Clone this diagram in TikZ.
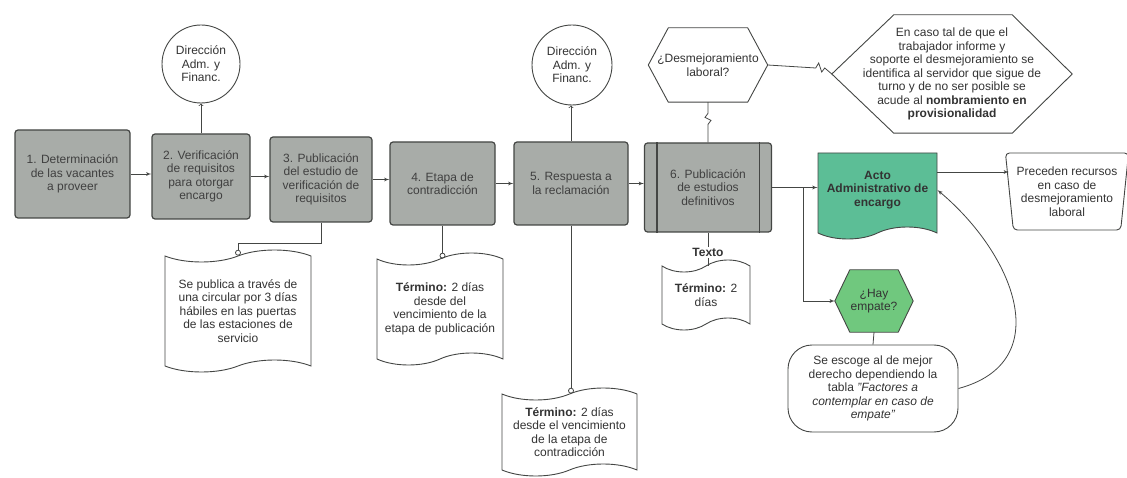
\documentclass[tikz,border=0pt]{standalone}
\usepackage{fontspec}
\setmainfont{Liberation Sans}
\usetikzlibrary{shapes,arrows,backgrounds}
\definecolor{boxgray}{RGB}{168,172,168}
\definecolor{edge}{RGB}{68,70,68}
\definecolor{actoteal}{RGB}{92,190,150}
\definecolor{tiegreen}{RGB}{112,200,126}
\tikzstyle{process} = [rectangle, draw=edge, fill=boxgray, text=black!75,
    rounded corners=3pt, line width=1.2pt, align=center, inner sep=2pt]
\tikzstyle{office} = [circle, draw=edge, fill=white, line width=0.9pt,
    minimum size=78pt, inner sep=0pt, align=center]
\tikzstyle{hexbox} = [rectangle, align=center, inner sep=1pt]
\tikzstyle{hexline} = [draw=edge, line width=0.9pt, line join=round]
\tikzstyle{note} = [tape, draw=edge, fill=white, line width=0.9pt,
    tape bend height=12pt, align=center, inner sep=1pt]
\tikzstyle{wire} = [draw=edge, line width=0.8pt]
\tikzstyle{flow} = [wire, -latex']
\tikzstyle{toward} = [wire, ->]
\tikzstyle{pin} = [wire, -o]
\begin{document}
\begin{tikzpicture}[x=1pt, y=-1pt, text=black!80,
    every node/.style={font=\fontsize{12}{13.5}\selectfont}]
 \useasboundingbox (0,0) rectangle (1127,478);
 % main steps
 \node[process, minimum width=115pt, minimum height=88pt] (b1) at (72.5,174) {1. Determinación\\de las vacantes\\a proveer};
 \node[process, minimum width=98pt, minimum height=85pt] (b2) at (201,176.5) {2. Verificación\\de requisitos\\para otorgar\\encargo};
 \node[process, minimum width=102pt, minimum height=85pt] (b3) at (321,179.5) {3. Publicación\\del estudio de\\verificación de\\requisitos};
 \node[process, minimum width=105pt, minimum height=83pt] (b4) at (442.5,183.5) {4. Etapa de\\contradicción};
 \node[process, minimum width=114pt, minimum height=83pt] (b5) at (571,183.5) {5. Respuesta a\\la reclamación};
 \node[process, minimum width=127pt, minimum height=89pt] (b6) at (708,187.5) {6. Publicación\\de estudios\\definitivos};
 \draw[edge, line width=1.2pt] ([xshift=13pt]b6.north west) -- ([xshift=13pt]b6.south west);
 \draw[edge, line width=1.2pt] ([xshift=-13pt]b6.north east) -- ([xshift=-13pt]b6.south east);

 % offices and decisions
 \node[office] (c1) at (201,64) {Dirección\\Adm. y\\Financ.};
 \node[office, minimum size=80pt] (c2) at (572,65) {Dirección\\Adm. y\\Financ.};
 \node[hexbox, minimum width=119pt, minimum height=74pt] (desm) at (708,65) {¿Desmejoramiento\\laboral?};
 \node[hexbox, minimum width=240pt, minimum height=118pt] (big) at (952,74) {En caso tal de que el\\trabajador informe y\\soporte el desmejoramiento se\\identifica al servidor que sigue de\\turno y de no ser posible se\\acude al \textbf{nombramiento en}\\\textbf{provisionalidad}};
 \node[tape, tape bend top=none, tape bend height=12pt, draw=edge, fill=actoteal, line width=0.9pt, text=black!80, align=center, minimum width=119pt, minimum height=86pt] (acto) at (877.5,190) {\textbf{Acto}\\\textbf{Administrativo de}\\\textbf{encargo}};
 \node[trapezium, shape border rotate=180, trapezium left angle=82, trapezium right angle=82, trapezium stretches=true, draw=edge, line width=0.9pt, rounded corners=4pt, align=center, minimum width=119pt, minimum height=77pt] (trap) at (1067,191.5) {Preceden recursos\\en caso de\\desmejoramiento\\laboral};
 \node[hexbox, minimum width=78pt, minimum height=62pt] (tie) at (874,301) {¿Hay\\empate?};
 \node[rectangle, draw=edge, line width=0.9pt, rounded corners=24pt, align=center, minimum width=170pt, minimum height=87pt] (pick) at (873,388.5) {Se escoge al de mejor\\derecho dependiendo la\\tabla \textit{"Factores a}\\\textit{contemplar en caso de}\\\textit{empate"}};

 \begin{scope}[on background layer]
  \draw[hexline, fill=white] (desm.west) -- ([xshift=20pt]desm.north west) -- ([xshift=-20pt]desm.north east) -- (desm.east) -- ([xshift=-20pt]desm.south east) -- ([xshift=20pt]desm.south west) -- cycle;
  \draw[hexline, fill=white] (big.west) -- ([xshift=62pt]big.north west) -- ([xshift=-60pt]big.north east) -- (big.east) -- ([xshift=-60pt]big.south east) -- ([xshift=62pt]big.south west) -- cycle;
  \draw[hexline, fill=tiegreen] (tie.west) -- ([xshift=15pt]tie.north west) -- ([xshift=-15pt]tie.north east) -- (tie.east) -- ([xshift=-15pt]tie.south east) -- ([xshift=15pt]tie.south west) -- cycle;
 \end{scope}

 % notes
 \node[note, minimum width=146pt, minimum height=122pt] (docA) at (238,311) {Se publica a través de\\una circular por 3 días\\hábiles en las puertas\\de las estaciones de\\servicio};
 \node[note, minimum width=126pt, minimum height=112pt] (docB) at (440,309) {\textbf{Término:} 2 días\\desde del\\vencimiento de la\\etapa de publicación};
 \node[note, minimum width=135pt, minimum height=88pt] (docC) at (569.5,432) {\textbf{Término:} 2 días\\desde el vencimiento\\de la etapa de\\contradicción};
 \node[note, minimum width=88pt, minimum height=70pt] (docD) at (706,295) {\textbf{Término:} 2\\días};

 % connectors
 \path[flow] (b1.east) -- (b1.east -| b2.west);
 \path[flow] (b2.east) -- (b2.east -| b3.west);
 \path[flow] (b3.east) -- (b3.east -| b4.west);
 \path[flow] (b4.east) -- (b4.east -| b5.west);
 \path[flow] (b5.east) -- (b5.east -| b6.west);
 \path[flow] (b6.east) -- (b6.east -| acto.west);
 \coordinate (split) at (803,187.5);
 \path[flow] (split) |- (tie.west);
 \path[flow] ([yshift=18pt]acto.east) -- ([yshift=18pt]acto.east -| trap.west);
 \path[flow] (pick.east) to[out=15, in=-40, looseness=1.3] (acto.east);
 \path[wire] (tie.south) -- (pick.north);

 \path[toward] (b2.north) -- (c1.south);
 \path[toward] (b5.north) -- (b5.north |- c2.south);
 \path[wire] (b6.north) -- ++(0,-18) -- ++(3,-4) -- ++(-6,-3) -- ++(3,-4) -- (desm.south);
 \path[wire] (desm.east) -- ++(48,3) -- ++(3,-5) -- ++(3,9) -- ++(3,-4) -- (big.west);

 \coordinate (kneeA) at (238,243);
 \path[pin] (b3.south) |- (kneeA) -- (docA.north);
 \path[pin] (b4.south) -- (b4.south |- docB.north);
 \path[pin] (b5.south) -- (b5.south |- docC.north);
 \path[wire] (b6.south) -- node[pos=0.6, fill=white, inner sep=1pt] {\textbf{Texto}} (b6.south |- docD.north);
\end{tikzpicture}
\end{document}
